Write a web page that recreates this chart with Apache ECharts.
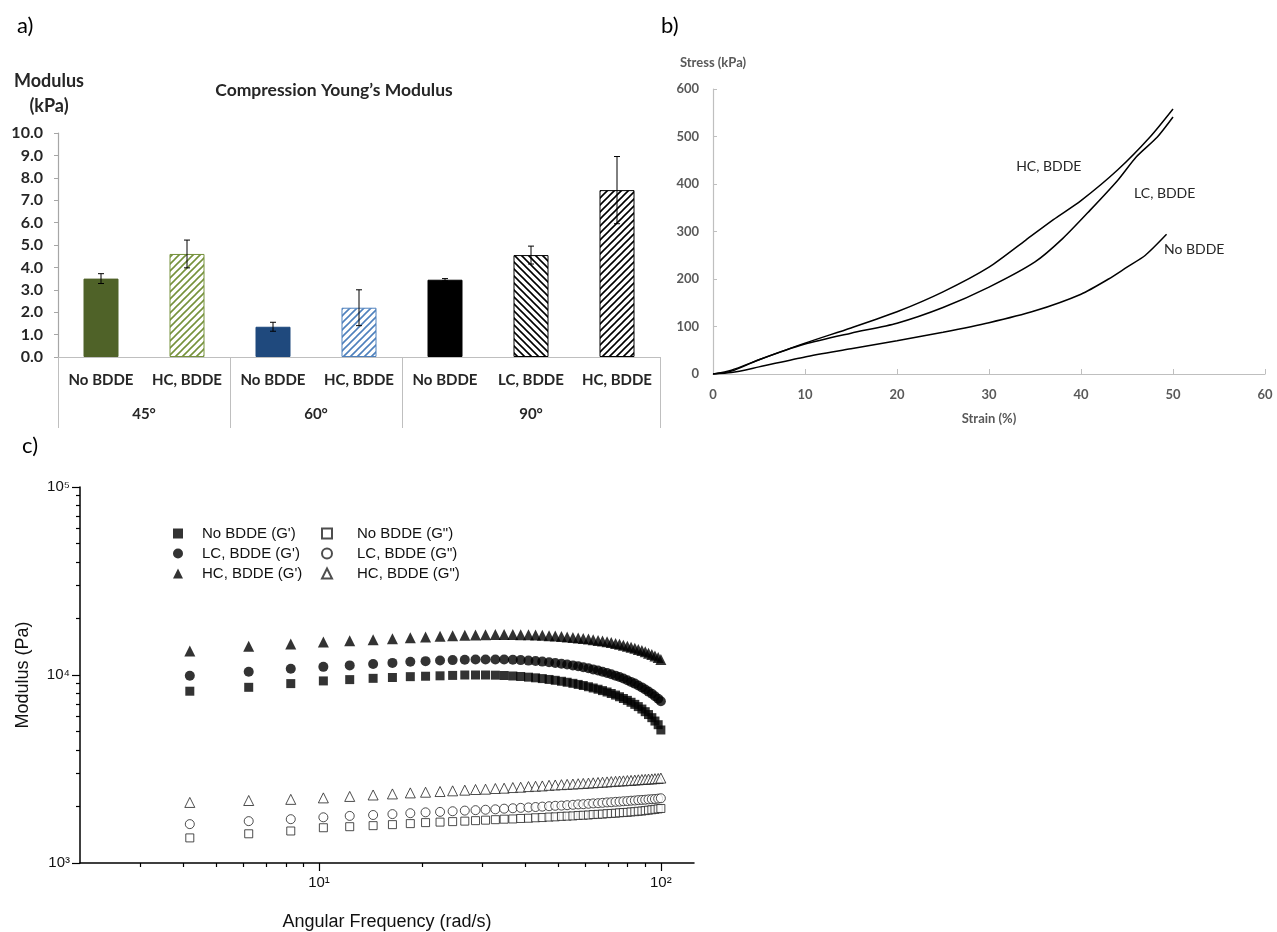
<!DOCTYPE html>
<html>
<head>
<meta charset="utf-8">
<script src="https://cdn.jsdelivr.net/npm/echarts@6/dist/echarts.min.js"></script>
<style>
html,body{margin:0;padding:0;background:#fff}
#main{width:1277px;height:932px}
</style>
</head>
<body>
<div id="main"></div>
<script>
// a) compression modulus
var barCategories = ['No BDDE', 'HC, BDDE', 'No BDDE', 'HC, BDDE', 'No BDDE', 'LC, BDDE', 'HC, BDDE'];
var angleGroups = ['45°', '60°', '90°'];
var groupSizes = [2, 2, 3];
var modulus = [3.5, 4.6, 1.35, 2.2, 3.45, 4.55, 7.45];
var modulusErr = [0.22, 0.62, 0.2, 0.8, 0.05, 0.4, 1.5];

// b) stress (kPa) vs strain (%)
var curveHC = [[0,0],[2,8],[5,30],[10,65],[15,97],[20,131],[25,173],[30,225],[34,282],[37,325],[40,365],[44,430],[47.5,499],[50,558]];
var curveLC = [[0,0],[2,6],[5,30],[10,63],[15,86],[20,107],[25,140],[30,183],[35,236],[38,285],[41,345],[44,408],[46,457],[48.3,499],[50,541]];
var curveNo = [[0,0],[2,3],[5,15],[10,36],[15,53],[20,70],[25,88],[30,108],[35,133],[40,168],[43,200],[45,225],[47,250],[49.3,294]];

// c) frequency sweep, modulus in Pa
var freq = [4.19,6.23,8.27,10.3,12.3,14.4,16.4,18.5,20.5,22.6,24.6,26.7,28.7,30.7,32.8,34.8,36.9,38.9,41.0,43.0,45.0,47.1,49.1,51.2,53.2,55.3,57.3,59.3,61.4,63.4,65.5,67.5,69.6,71.6,73.7,75.7,77.7,79.8,81.8,83.9,85.9,88.0,90.0,92.0,94.1,96.1,98.2,100];
var noG1 = [8200,8600,9000,9300,9450,9600,9700,9800,9850,9900,9950,10000,10000,10000,9980,9940,9880,9820,9740,9660,9570,9470,9370,9260,9150,9030,8910,8790,8660,8530,8400,8260,8120,7970,7820,7660,7500,7330,7160,6980,6790,6590,6380,6160,5930,5690,5440,5100];
var lcG1 = [9900,10400,10800,11050,11250,11450,11600,11750,11850,11950,12000,12050,12100,12100,12100,12080,12050,12000,11930,11860,11780,11690,11590,11480,11370,11250,11120,10990,10850,10710,10560,10410,10250,10090,9920,9750,9570,9380,9190,9000,8800,8590,8380,8160,7940,7710,7480,7250];
var hcG1 = [13400,14200,14600,15000,15200,15400,15600,15800,15950,16050,16150,16250,16300,16350,16400,16400,16400,16380,16350,16300,16250,16180,16100,16020,15930,15840,15740,15630,15520,15400,15280,15150,15010,14870,14720,14560,14400,14230,14050,13870,13680,13480,13280,13070,12850,12620,12380,12100];
var noG2 = [1360,1430,1480,1540,1560,1580,1600,1620,1640,1650,1660,1670,1680,1690,1700,1710,1715,1725,1730,1740,1745,1755,1760,1770,1775,1780,1790,1795,1800,1810,1815,1820,1830,1835,1840,1850,1855,1860,1870,1875,1885,1890,1900,1910,1920,1930,1940,1950];
var lcG2 = [1610,1670,1710,1750,1780,1800,1820,1840,1860,1870,1885,1900,1910,1920,1930,1945,1955,1965,1975,1985,1995,2005,2015,2020,2030,2040,2050,2055,2065,2075,2080,2090,2100,2105,2115,2120,2130,2135,2145,2150,2160,2165,2170,2180,2185,2190,2200,2210];
var hcG2 = [2100,2150,2180,2220,2260,2300,2330,2360,2380,2400,2420,2440,2460,2470,2490,2500,2520,2530,2550,2560,2570,2590,2600,2610,2620,2630,2640,2650,2660,2670,2680,2690,2700,2710,2720,2730,2735,2745,2750,2760,2770,2780,2785,2795,2800,2810,2815,2830];

var calibri = 'Lato, "Open Sans", sans-serif';
var arial = '"Liberation Sans", Arial, sans-serif';
var sup = ['⁰','¹','²','³','⁴','⁵'];

// diagonal hatch pattern fill
function hatch(color, back) {
  var s = 7;
  var c = document.createElement('canvas');
  c.width = s; c.height = s;
  var ctx = c.getContext('2d');
  ctx.fillStyle = '#fff';
  ctx.fillRect(0, 0, s, s);
  ctx.strokeStyle = color;
  ctx.lineWidth = 1.6;
  ctx.beginPath();
  if (back) {
    ctx.moveTo(-1, -1); ctx.lineTo(s + 1, s + 1);
    ctx.moveTo(-1, s - 1); ctx.lineTo(1, s + 1);
    ctx.moveTo(s - 1, -1); ctx.lineTo(s + 1, 1);
  } else {
    ctx.moveTo(-1, s + 1); ctx.lineTo(s + 1, -1);
    ctx.moveTo(-1, 1); ctx.lineTo(1, -1);
    ctx.moveTo(s - 1, s + 1); ctx.lineTo(s + 1, s - 1);
  }
  ctx.stroke();
  return { image: c, repeat: 'repeat' };
}

var barStyles = [
  { color: '#4f6228', borderColor: '#4f6228', borderWidth: 1 },
  { color: hatch('#76923c'), borderColor: '#76923c', borderWidth: 1 },
  { color: '#1f497d', borderColor: '#1f497d', borderWidth: 1 },
  { color: hatch('#4f81bd'), borderColor: '#4f81bd', borderWidth: 1 },
  { color: '#000', borderColor: '#000', borderWidth: 1 },
  { color: hatch('#000', true), borderColor: '#000', borderWidth: 1 },
  { color: hatch('#000'), borderColor: '#000', borderWidth: 1 }
];

// group boundaries / centres for the second level of the category axis
var groupEdges = [0], groupCenters = [];
var acc = 0;
groupSizes.forEach(function (n) {
  groupCenters.push(acc + n / 2);
  acc += n;
  groupEdges.push(acc);
});

function logTicks(lo, hi) {
  var out = [];
  for (var d = lo; d < hi; d++) {
    for (var k = 2; k <= 9; k++) out.push(Math.log10(k * Math.pow(10, d)));
  }
  return out;
}

var boldA = { fontFamily: calibri, fontWeight: 'bold', fontSize: 15, color: '#262626' };
var grayB = { fontFamily: calibri, fontWeight: 'bold', fontSize: 13, color: '#595959' };
var hide = { show: false };
var legendText = { fontFamily: arial, fontSize: 15, color: '#111' };

var xMinC = 2, xMaxC = 125;

var option = {
  animation: false,
  title: [
    { text: 'a)', left: 12, top: 10, textStyle: { fontFamily: calibri, fontSize: 22, fontWeight: 'normal', color: '#000' } },
    { text: 'b)', left: 656, top: 10, textStyle: { fontFamily: calibri, fontSize: 22, fontWeight: 'normal', color: '#000' } },
    { text: 'c)', left: 17, top: 430, textStyle: { fontFamily: calibri, fontSize: 22, fontWeight: 'normal', color: '#000' } },
    { text: 'Compression Young’s Modulus', left: 329, top: 76, textAlign: 'center',
      textStyle: { fontFamily: calibri, fontSize: 17.5, fontWeight: 'bold', color: '#262626' } }
  ],
  grid: [
    { left: 58, top: 133, width: 602, height: 224 },
    { left: 713, top: 89, width: 552, height: 285 },
    { left: 80, top: 487, width: 614, height: 381 }
  ],
  legend: [
    { data: ["No BDDE (G')", "LC, BDDE (G')", "HC, BDDE (G')"], orient: 'vertical', left: 168, top: 521,
      itemWidth: 10, itemHeight: 10, itemGap: 5, selectedMode: false,
      textStyle: Object.assign({ padding: [0, 0, 0, 14] }, legendText) },
    { data: ['No BDDE (G")', 'LC, BDDE (G")', 'HC, BDDE (G")'], orient: 'vertical', left: 316, top: 521,
      itemWidth: 10, itemHeight: 10, itemGap: 5, selectedMode: false,
      textStyle: Object.assign({ padding: [0, 0, 0, 20] }, legendText) }
  ],
  xAxis: [
    { type: 'category', gridIndex: 0, data: barCategories,
      axisLine: { lineStyle: { color: '#bfbfbf', width: 1.2 } },
      axisTick: { length: 42, interval: 0, lineStyle: { color: '#bfbfbf' } },
      axisLabel: Object.assign({ margin: 16, interval: 0 }, boldA) },
    { type: 'value', gridIndex: 0, min: 0, max: barCategories.length, position: 'bottom',
      axisLine: hide, splitLine: hide,
      axisTick: { show: true, customValues: groupEdges, length: 71, lineStyle: { color: '#bfbfbf' } },
      axisLabel: Object.assign({ customValues: groupCenters, margin: 50,
        formatter: function (v) { return angleGroups[groupCenters.indexOf(v)]; } }, boldA) },
    { type: 'value', gridIndex: 1, min: 0, max: 60, interval: 10,
      name: 'Strain (%)', nameLocation: 'middle', nameGap: 38, nameTextStyle: grayB,
      axisLine: { lineStyle: { color: '#bfbfbf', width: 1.2 } },
      axisTick: { inside: true, length: 5, lineStyle: { color: '#bfbfbf' } },
      splitLine: hide,
      axisLabel: Object.assign({ margin: 14 }, grayB) },
    { type: 'log', gridIndex: 2, min: xMinC, max: xMaxC, logBase: 10,
      name: 'Angular Frequency (rad/s)', nameLocation: 'middle', nameGap: 50,
      nameTextStyle: { fontFamily: arial, fontSize: 18, color: '#111' },
      axisLine: { lineStyle: { color: '#000', width: 1.5 } },
      axisTick: hide, axisLabel: hide, splitLine: hide, minorTick: hide },
    { type: 'value', gridIndex: 2, min: Math.log10(xMinC), max: Math.log10(xMaxC), position: 'bottom',
      axisLine: hide, splitLine: hide,
      axisTick: { show: true, customValues: [1, 2], length: 8, lineStyle: { color: '#000', width: 1.2 } },
      axisLabel: { customValues: [1, 2], margin: 12, fontFamily: arial, fontSize: 15, color: '#111',
        formatter: function (v) { return '10' + sup[Math.round(v)]; } } },
    { type: 'value', gridIndex: 2, min: Math.log10(xMinC), max: Math.log10(xMaxC), position: 'bottom',
      axisLine: hide, splitLine: hide, axisLabel: hide,
      axisTick: { show: true, customValues: logTicks(0, 2).filter(function (v) { return v > Math.log10(xMinC) + 1e-6; }),
        length: 4, lineStyle: { color: '#000', width: 1.2 } } }
  ],
  yAxis: [
    { type: 'value', gridIndex: 0, min: 0, max: 10, interval: 1,
      name: 'Modulus\n(kPa)', nameLocation: 'end', nameGap: 14,
      nameTextStyle: Object.assign({}, boldA, { fontSize: 18, align: 'center', padding: [0, 18, 0, 0], lineHeight: 25 }),
      axisLine: { show: true, lineStyle: { color: '#a6a6a6', width: 1.2 } },
      axisTick: { show: true, length: 4, lineStyle: { color: '#a6a6a6' } },
      splitLine: hide,
      axisLabel: Object.assign({}, boldA, { fontSize: 16, margin: 15, formatter: function (v) { return v.toFixed(1); } }) },
    { type: 'value', gridIndex: 1, min: 0, max: 600, interval: 100,
      name: 'Stress (kPa)', nameLocation: 'end', nameGap: 20, nameTextStyle: grayB,
      axisLine: { show: true, lineStyle: { color: '#bfbfbf', width: 1.2 } },
      axisTick: { show: true, inside: true, length: 4, lineStyle: { color: '#bfbfbf' } },
      splitLine: hide,
      axisLabel: Object.assign({ margin: 14 }, grayB) },
    { type: 'log', gridIndex: 2, min: 1000, max: 100000, logBase: 10,
      name: 'Modulus (Pa)', nameLocation: 'middle', nameGap: 48,
      nameTextStyle: { fontFamily: arial, fontSize: 18, color: '#111' },
      axisLine: { show: true, lineStyle: { color: '#000', width: 1.5 } },
      axisTick: { show: true, length: 8, lineStyle: { color: '#000', width: 1.2 } },
      splitLine: hide, minorTick: hide,
      axisLabel: { margin: 10, fontFamily: arial, fontSize: 15, color: '#111',
        formatter: function (v) { return '10' + sup[Math.round(Math.log10(v))]; } } },
    { type: 'value', gridIndex: 2, min: 3, max: 5, position: 'left',
      axisLine: hide, splitLine: hide, axisLabel: hide,
      axisTick: { show: true, customValues: logTicks(3, 5), length: 4, lineStyle: { color: '#000', width: 1.2 } } }
  ],
  series: [
    { type: 'bar', xAxisIndex: 0, yAxisIndex: 0, barWidth: 35,
      data: modulus.map(function (v, i) { return { value: v, itemStyle: barStyles[i] }; }) },
    { type: 'custom', xAxisIndex: 0, yAxisIndex: 0, z: 10,
      encode: { x: 0, y: [1, 2] },
      data: modulus.map(function (v, i) { return [i, v - modulusErr[i], v + modulusErr[i]]; }),
      renderItem: function (params, api) {
        var lo = api.coord([api.value(0), api.value(1)]);
        var hi = api.coord([api.value(0), api.value(2)]);
        var w = 3, st = { stroke: '#000', lineWidth: 1 };
        return { type: 'group', children: [
          { type: 'line', shape: { x1: hi[0], y1: hi[1], x2: lo[0], y2: lo[1] }, style: st },
          { type: 'line', shape: { x1: hi[0] - w, y1: hi[1], x2: hi[0] + w, y2: hi[1] }, style: st },
          { type: 'line', shape: { x1: lo[0] - w, y1: lo[1], x2: lo[0] + w, y2: lo[1] }, style: st }
        ] };
      } }
  ]
};

// b) curves with their text labels
var curveLabel = { fontFamily: calibri, fontSize: 14, color: '#262626' };
[[curveHC, 'HC, BDDE', [36.5, 436]], [curveLC, 'LC, BDDE', [49.1, 379]], [curveNo, 'No BDDE', [52.3, 263]]].forEach(function (c) {
  option.series.push({
    type: 'line', xAxisIndex: 2, yAxisIndex: 1, data: c[0], showSymbol: false, smooth: 0.25,
    lineStyle: { color: '#000', width: 1.5 }, silent: true,
    markPoint: { symbol: 'rect', symbolSize: 1, silent: true, itemStyle: { color: 'rgba(0,0,0,0)' },
      label: Object.assign({ show: true, position: 'inside', formatter: c[1] }, curveLabel),
      data: [{ coord: c[2] }] }
  });
});

// c) G' filled, G" open
function pairs(ys) { return freq.map(function (f, i) { return [f, ys[i]]; }); }
var sweep = [
  ["No BDDE (G')", noG1, 'rect', 9, true],
  ["LC, BDDE (G')", lcG1, 'circle', 10, true],
  ["HC, BDDE (G')", hcG1, 'triangle', 11, true],
  ['No BDDE (G")', noG2, 'rect', 8, false],
  ['LC, BDDE (G")', lcG2, 'circle', 9, false],
  ['HC, BDDE (G")', hcG2, 'triangle', 10, false]
];
sweep.forEach(function (s) {
  option.series.push({
    name: s[0], type: 'scatter', xAxisIndex: 3, yAxisIndex: 2, data: pairs(s[1]),
    symbol: s[2], symbolSize: s[3], silent: true,
    itemStyle: s[4] ? { color: '#000' } : { color: '#fff', borderColor: '#222', borderWidth: 1 }
  });
});

var chart = echarts.init(document.getElementById('main'));
chart.setOption(option);
</script>
</body>
</html>
